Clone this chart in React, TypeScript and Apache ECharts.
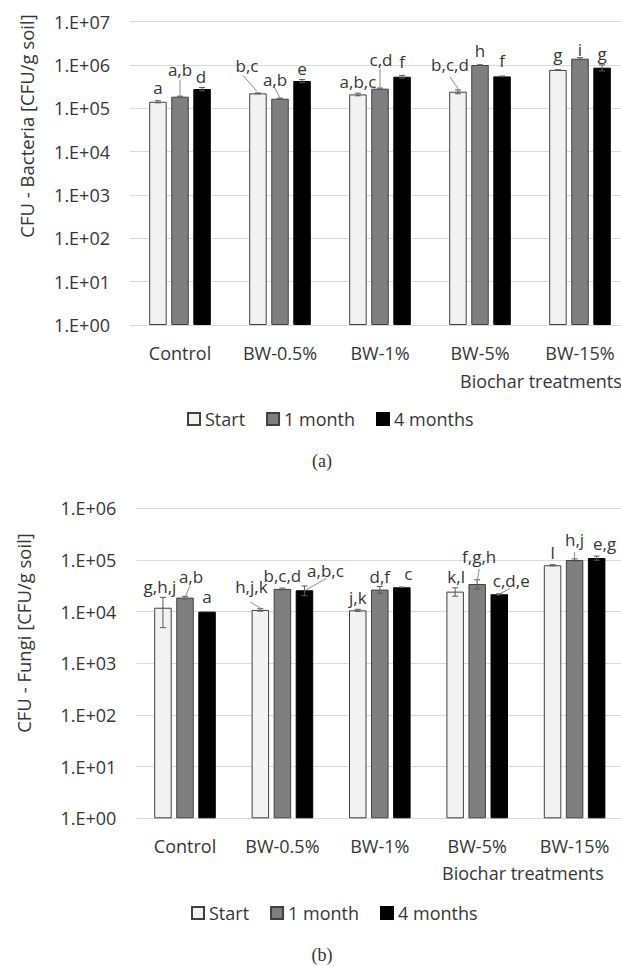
import React, { useEffect, useRef } from 'react';
import * as echarts from 'echarts';

// ---------- data ----------
const categories = ['Control', 'BW-0.5%', 'BW-1%', 'BW-5%', 'BW-15%'];
const seriesNames = ['Start', '1 month', '4 months'];

const bacteriaStart = [1.42e5, 2.22e5, 2.1e5, 2.42e5, 7.7e5];
const bacteria1Month = [1.86e5, 1.67e5, 2.84e5, 1.0e6, 1.4e6];
const bacteria4Months = [2.79e5, 4.27e5, 5.37e5, 5.47e5, 8.7e5];
const bacteriaErrStart = [0.08e5, 0.05e5, 0.15e5, 0.25e5, 0.1e5];
const bacteriaErr1Month = [0.05e5, 0.05e5, 0.1e5, 0.1e5, 0.8e5];
const bacteriaErr4Months = [0.25e5, 0.35e5, 0.4e5, 0.1e5, 1.4e5];
const bacteriaLettersStart = ['a', 'b,c', 'a,b,c', 'b,c,d', 'g'];
const bacteriaLetters1Month = ['a,b', 'a,b', 'c,d', 'h', 'i'];
const bacteriaLetters4Months = ['d', 'e', 'f', 'f', 'g'];

const fungiStart = [1.19e4, 1.08e4, 1.06e4, 2.44e4, 7.9e4];
const fungi1Month = [1.87e4, 2.75e4, 2.67e4, 3.43e4, 1.0e5];
const fungi4Months = [1.0e4, 2.59e4, 2.96e4, 2.17e4, 1.09e5];
const fungiErrStart = [0.7e4, 0.06e4, 0.05e4, 0.45e4, 0.2e4];
const fungiErr1Month = [0.1e4, 0.1e4, 0.4e4, 0.7e4, 0.5e4];
const fungiErr4Months = [0, 0.55e4, 0.03e4, 0.05e4, 1.0e4];
const fungiLettersStart = ['g,h,j', 'h,j,k', 'j,k', 'k,l', 'l'];
const fungiLetters1Month = ['a,b', 'b,c,d', 'd,f', 'f,g,h', 'h,j'];
const fungiLetters4Months = ['a', 'a,b,c', 'c', 'c,d,e', 'e,g'];

const bacteriaTicks = ['1.E+00', '1.E+01', '1.E+02', '1.E+03', '1.E+04', '1.E+05', '1.E+06', '1.E+07'];
const fungiTicks = ['1.E+00', '1.E+01', '1.E+02', '1.E+03', '1.E+04', '1.E+05', '1.E+06'];

// ---------- layout of letters (pixel offsets from bar top centre) ----------
type LL = { dx: number; dy: number; line?: number[] };
const bacteriaLabelLayout: LL[][] = [
  [
    { dx: 0, dy: -14 },
    { dx: -11, dy: -28, line: [-15, -18, -1, -2] },
    { dx: 0, dy: -13 },
    { dx: -8, dy: -27, line: [-8, -15, 2, 0] },
    { dx: 0, dy: -15 },
  ],
  [
    { dx: 0, dy: -27, line: [0, -17, 0, 0] },
    { dx: -5, dy: -19, line: [-6, -12, 0, -1] },
    { dx: 1, dy: -29, line: [0, -20, 0, 0] },
    { dx: 0, dy: -15 },
    { dx: 0, dy: -9 },
  ],
  [
    { dx: -1, dy: -13 },
    { dx: 0, dy: -13 },
    { dx: 0, dy: -15 },
    { dx: 0, dy: -16 },
    { dx: 0, dy: -14 },
  ],
];
const fungiLabelLayout: LL[][] = [
  [
    { dx: -3, dy: -21 },
    { dx: -9, dy: -23, line: [-10, -8, 1, -1] },
    { dx: 0, dy: -13 },
    { dx: 1, dy: -15 },
    { dx: 0, dy: -13 },
  ],
  [
    { dx: 6, dy: -21, line: [5, -12, 0, 0] },
    { dx: 0, dy: -13 },
    { dx: 0, dy: -13 },
    { dx: 2, dy: -27, line: [2, -15, 0, -2] },
    { dx: 0, dy: -20, line: [0, -8, 0, -1] },
  ],
  [
    { dx: 0, dy: -15 },
    { dx: 21, dy: -20, line: [22, -12, 1, 0] },
    { dx: 6.5, dy: -14 },
    { dx: 12, dy: -14, line: [11, -6, -2, 1] },
    { dx: 8, dy: -15 },
  ],
];

// ---------- styles ----------
const FONT = "'Open Sans', sans-serif";
const TXT = '#363636';
const GRID_C = '#d9d9d9';
const BAR_COLORS = ['#f2f2f2', '#7f7f7f', '#000000'];
const BAR_W = 17.5;
const BAR_GAP = 0.26;
const BAR_STEP = BAR_W * (1 + BAR_GAP);

function buildPanel(
  idx: number,
  values: number[][],
  errs: number[][],
  letters: string[][],
  layout: LL[][],
  ticks: string[]
) {
  const bars = values.map((vals, s) => ({
    type: 'bar',
    name: seriesNames[s],
    xAxisIndex: idx,
    yAxisIndex: idx,
    data: vals,
    barWidth: BAR_W,
    barGap: `${BAR_GAP * 100}%`,
    itemStyle: { color: BAR_COLORS[s], borderColor: s === 2 ? '#000' : '#404040', borderWidth: 1 },
    z: 2,
  }));
  const customData: number[][] = [];
  for (let s = 0; s < 3; s++) {
    for (let c = 0; c < categories.length; c++) {
      customData.push([c, values[s][c], s, errs[s][c]]);
    }
  }
  const custom = {
    type: 'custom',
    name: 'annot' + idx,
    xAxisIndex: idx,
    yAxisIndex: idx,
    clip: false,
    z: 5,
    encode: { x: 0, y: 1 },
    data: customData,
    renderItem: (params: any, api: any) => {
      const c = api.value(0);
      const v = api.value(1);
      const s = api.value(2);
      const e = api.value(3);
      const p = api.coord([c, v]);
      const x = p[0] + (s - 1) * BAR_STEP;
      const top = p[1];
      const children: any[] = [];
      if (e > 0) {
        const hi = api.coord([c, v + e])[1];
        const lo = api.coord([c, Math.max(v - e, 1)])[1];
        const es = { stroke: '#595959', lineWidth: 1 };
        children.push({ type: 'line', shape: { x1: x, y1: hi, x2: x, y2: lo }, style: es });
        children.push({ type: 'line', shape: { x1: x - 3, y1: hi, x2: x + 3, y2: hi }, style: es });
        children.push({ type: 'line', shape: { x1: x - 3, y1: lo, x2: x + 3, y2: lo }, style: es });
      }
      const l = layout[s][c];
      if (l.line) {
        children.push({
          type: 'line',
          shape: { x1: x + l.line[0], y1: top + l.line[1], x2: x + l.line[2], y2: top + l.line[3] },
          style: { stroke: '#8c8c8c', lineWidth: 1 },
        });
      }
      children.push({
        type: 'text',
        x: x + l.dx,
        y: top + l.dy,
        style: {
          text: letters[s][c],
          fontFamily: FONT,
          fontSize: 17,
          fill: TXT,
          align: 'center',
          verticalAlign: 'middle',
        },
      });
      return { type: 'group', children };
    },
  };
  const xAxis = {
    gridIndex: idx,
    type: 'category',
    data: categories,
    axisLine: { show: false },
    axisTick: { show: false },
    axisLabel: { margin: 19, fontSize: 18, color: TXT, fontFamily: FONT },
  };
  const yAxis = {
    gridIndex: idx,
    type: 'log',
    logBase: 10,
    min: 1,
    max: Math.pow(10, ticks.length - 1),
    splitNumber: ticks.length - 1,
    axisLine: { show: false },
    axisTick: { show: false },
    splitLine: { show: true, lineStyle: { color: GRID_C, width: 1 } },
    axisLabel: {
      margin: 20,
      fontSize: 18,
      color: TXT,
      fontFamily: FONT,
      formatter: (val: number) => ticks[Math.round(Math.log10(val))] ?? '',
    },
  };
  return { series: [...bars, custom], xAxis, yAxis };
}

export default function App() {
  const ref = useRef<HTMLDivElement>(null);
  useEffect(() => {
    if (!ref.current) return;
    const chart = echarts.init(ref.current, undefined, { renderer: 'svg' });
    const a = buildPanel(
      0,
      [bacteriaStart, bacteria1Month, bacteria4Months],
      [bacteriaErrStart, bacteriaErr1Month, bacteriaErr4Months],
      [bacteriaLettersStart, bacteriaLetters1Month, bacteriaLetters4Months],
      bacteriaLabelLayout,
      bacteriaTicks
    );
    const b = buildPanel(
      1,
      [fungiStart, fungi1Month, fungi4Months],
      [fungiErrStart, fungiErr1Month, fungiErr4Months],
      [fungiLettersStart, fungiLetters1Month, fungiLetters4Months],
      fungiLabelLayout,
      fungiTicks
    );
    const legendBase = {
      data: seriesNames,
      icon: 'rect',
      itemWidth: 12,
      itemHeight: 12,
      itemGap: 21,
      orient: 'horizontal',
      textStyle: { fontSize: 18, color: TXT, fontFamily: FONT },
      selectedMode: false,
    };
    const tStyle = { fontFamily: FONT, fontSize: 18, fill: TXT };
    chart.setOption({
      animation: false,
      backgroundColor: '#ffffff',
      textStyle: { fontFamily: FONT },
      grid: [
        { left: 130, top: 21.7, width: 500, height: 303.3 },
        { left: 136.3, top: 508.3, width: 487, height: 310 },
      ],
      xAxis: [a.xAxis, b.xAxis],
      yAxis: [a.yAxis, b.yAxis],
      legend: [
        { ...legendBase, left: 182, top: 405 },
        { ...legendBase, left: 186, top: 899 },
      ],
      series: [...a.series, ...b.series],
      graphic: [
        {
          type: 'text', x: 26, y: 126, rotation: Math.PI / 2,
          style: { ...tStyle, fontSize: 18.5, text: 'CFU - Bacteria [CFU/g soil]', align: 'center', verticalAlign: 'middle' },
        },
        {
          type: 'text', x: 23, y: 633, rotation: Math.PI / 2,
          style: { ...tStyle, fontSize: 18.5, text: 'CFU - Fungi [CFU/g soil]', align: 'center', verticalAlign: 'middle' },
        },
        {
          type: 'text', x: 460, y: 381,
          style: { ...tStyle, text: 'Biochar treatments', align: 'left', verticalAlign: 'middle' },
        },
        {
          type: 'text', x: 442, y: 873,
          style: { ...tStyle, text: 'Biochar treatments', align: 'left', verticalAlign: 'middle' },
        },
        {
          type: 'text', x: 322, y: 461,
          style: { text: '(a)', fontFamily: "'Liberation Serif', serif", fontSize: 18, fill: '#333', align: 'center', verticalAlign: 'middle' },
        },
        {
          type: 'text', x: 322, y: 955,
          style: { text: '(b)', fontFamily: "'Liberation Serif', serif", fontSize: 18, fill: '#333', align: 'center', verticalAlign: 'middle' },
        },
      ],
    });
    return () => chart.dispose();
  }, []);
  return (
    <div style={{ position: 'absolute', left: 0, top: 0, width: 621, height: 967, overflow: 'hidden', background: '#fff' }}>
      <div ref={ref} style={{ width: 640, height: 967 }} />
    </div>
  );
}
